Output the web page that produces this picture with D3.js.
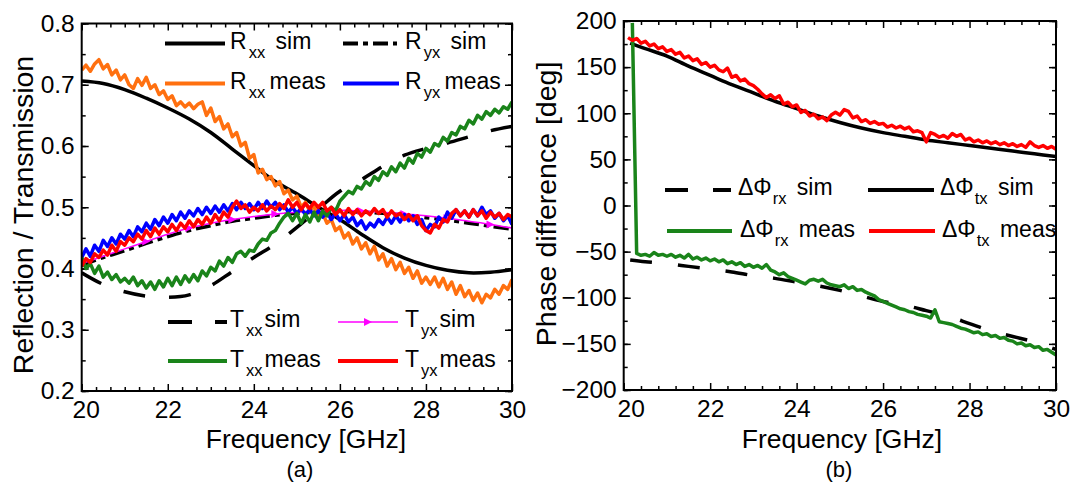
<!DOCTYPE html>
<html>
<head>
<meta charset="utf-8">
<script src="https://cdn.jsdelivr.net/npm/d3@7"></script>
<style>
body{margin:0;background:#fff}
svg{display:block}
</style>
</head>
<body>
<div id="chart"></div>
<script>

const FONT="'Liberation Sans', Arial, Helvetica, sans-serif"

// ---- panel (a): reflection / transmission ----
const freqMeas=d3.range(101).map(i=>+(20+i*0.1).toFixed(1))
const freqSim=d3.range(21).map(i=>20+i*0.5)

const rxxSim=[0.706,0.702,0.692,0.678,0.662,0.644,0.622,0.595,0.568,0.542,0.522,0.500,0.480,0.456,0.434,0.417,0.405,0.397,0.393,0.394,0.398]
const ryxSim=[0.405,0.418,0.429,0.441,0.452,0.462,0.470,0.477,0.482,0.487,0.490,0.492,0.493,0.492,0.490,0.487,0.483,0.479,0.474,0.469,0.464]
const txxSim=[0.393,0.374,0.362,0.355,0.353,0.357,0.372,0.395,0.418,0.440,0.467,0.497,0.526,0.545,0.567,0.585,0.596,0.605,0.615,0.625,0.632]
const tyxSim=[0.408,0.420,0.432,0.444,0.456,0.466,0.474,0.480,0.485,0.489,0.492,0.494,0.495,0.494,0.492,0.489,0.486,0.482,0.477,0.472,0.466]

const rxxMeas=[
0.724,0.732,0.722,0.734,0.741,0.726,0.733,0.716,0.724,0.708,
0.716,0.700,0.694,0.710,0.699,0.712,0.694,0.700,0.684,0.690,
0.676,0.682,0.666,0.672,0.664,0.670,0.661,0.668,0.672,0.650,
0.662,0.640,0.648,0.628,0.636,0.615,0.622,0.600,0.606,0.580,
0.586,0.556,0.562,0.545,0.550,0.535,0.542,0.522,0.528,0.512,
0.518,0.500,0.508,0.494,0.502,0.484,0.490,0.474,0.480,0.462,
0.468,0.450,0.458,0.440,0.450,0.432,0.442,0.424,0.436,0.414,
0.424,0.404,0.416,0.398,0.410,0.392,0.402,0.384,0.396,0.376,
0.386,0.374,0.386,0.370,0.384,0.366,0.378,0.358,0.372,0.354,
0.364,0.348,0.360,0.344,0.358,0.352,0.366,0.358,0.372,0.366,
0.382]
const ryxMeas=[
0.418,0.432,0.420,0.438,0.428,0.446,0.436,0.450,0.440,0.456,
0.448,0.462,0.452,0.468,0.460,0.474,0.464,0.480,0.470,0.484,
0.474,0.488,0.478,0.492,0.482,0.494,0.486,0.498,0.488,0.500,
0.490,0.502,0.492,0.504,0.494,0.506,0.496,0.508,0.498,0.506,
0.496,0.508,0.498,0.510,0.500,0.508,0.496,0.504,0.492,0.500,
0.490,0.498,0.488,0.496,0.486,0.494,0.484,0.492,0.480,0.490,
0.478,0.488,0.476,0.484,0.470,0.478,0.464,0.474,0.468,0.480,
0.472,0.484,0.474,0.486,0.476,0.488,0.478,0.486,0.472,0.480,
0.462,0.472,0.468,0.484,0.476,0.492,0.482,0.496,0.486,0.494,
0.484,0.496,0.486,0.500,0.488,0.494,0.482,0.490,0.478,0.486,
0.472]
const txxMeas=[
0.418,0.400,0.408,0.392,0.404,0.386,0.394,0.382,0.390,0.378,
0.384,0.376,0.386,0.372,0.380,0.368,0.378,0.366,0.380,0.370,
0.384,0.372,0.386,0.374,0.388,0.378,0.390,0.380,0.396,0.388,
0.402,0.396,0.412,0.404,0.418,0.410,0.424,0.428,0.420,0.430,
0.428,0.440,0.448,0.446,0.458,0.462,0.474,0.484,0.490,0.478,
0.490,0.474,0.488,0.476,0.492,0.478,0.494,0.486,0.500,0.494,
0.510,0.518,0.526,0.522,0.534,0.530,0.542,0.536,0.550,0.544,
0.558,0.552,0.566,0.558,0.572,0.564,0.580,0.572,0.588,0.582,
0.596,0.590,0.604,0.600,0.614,0.608,0.622,0.618,0.632,0.628,
0.642,0.636,0.650,0.644,0.656,0.650,0.660,0.654,0.664,0.660,
0.672]
const tyxMeas=[
0.404,0.416,0.410,0.424,0.418,0.430,0.422,0.438,0.428,0.444,
0.438,0.450,0.444,0.456,0.448,0.462,0.452,0.466,0.456,0.468,
0.460,0.472,0.462,0.474,0.466,0.478,0.468,0.480,0.472,0.484,
0.474,0.488,0.478,0.492,0.484,0.500,0.510,0.498,0.504,0.492,
0.500,0.494,0.504,0.494,0.502,0.496,0.506,0.498,0.512,0.500,
0.508,0.496,0.506,0.498,0.508,0.500,0.508,0.494,0.500,0.488,
0.496,0.486,0.498,0.488,0.496,0.486,0.494,0.488,0.498,0.490,
0.496,0.484,0.494,0.486,0.490,0.480,0.488,0.478,0.486,0.470,
0.462,0.458,0.472,0.466,0.480,0.476,0.490,0.496,0.486,0.494,
0.484,0.496,0.486,0.494,0.482,0.492,0.484,0.490,0.480,0.488,
0.484]

// ---- panel (b): phase difference ----
const freqTx=d3.range(100).map(i=>+(20.1+i*0.1).toFixed(1))
const freqRx=d3.range(99).map(i=>+(20.2+i*0.1).toFixed(1))
const freqPhiSim=[20.15,20.5,21,21.5,22,22.5,23,23.5,24,24.5,25,25.5,26,26.5,27,27.5,28,28.5,29,29.5,30]

const txSim=[176,170,162,151,141,131,122,113,105,97,90,84,79,75,71,68,65,62,59,56,53]
const rxSim=[-59,-61,-63,-66,-69,-72,-76,-79,-83,-87,-92,-98,-104,-108,-114,-120,-128,-136,-142,-148,-156]

const txMeas=[
182,179,181,176,178,173,175,170,172,
167,169,164,166,160,162,157,159,153,155,
150,152,147,145,149,139,141,135,137,132,
130,126,121,117,120,116,119,110,112,107,
109,101,103,97,99,94,96,92,98,101,
98,104,102,95,97,91,93,89,91,88,
89,85,87,84,86,83,85,80,81,79,
69,79,77,74,76,73,78,75,77,71,
73,69,71,68,70,67,69,66,68,65,
67,64,66,63,69,65,63,65,62,64,
61]
const rxMeas=[
198,
-52,-54,-53,-55,-51,-54,-53,
-55,-53,-56,-54,-57,-53,-58,-56,-59,-57,
-60,-58,-61,-59,-63,-61,-64,-62,-66,-64,
-67,-65,-68,-64,-70,-72,-75,-73,-77,-79,
-81,-83,-85,-81,-80,-82,-80,-84,-86,-87,
-88,-86,-90,-88,-92,-91,-94,-96,-98,-102,
-104,-106,-108,-110,-112,-113,-115,-116,-118,-119,
-120,-122,-113,-126,-127,-128,-129,-131,-133,-134,
-136,-138,-137,-140,-139,-142,-141,-144,-143,-146,
-147,-150,-149,-152,-151,-154,-153,-157,-156,-159,
-162]

const xTicks=[20,22,24,26,28,30]
const leftYTicks=[0.2,0.3,0.4,0.5,0.6,0.7,0.8]
const rightYTicks=[-200,-150,-100,-50,0,50,100,150,200]

const ORANGE="#ff7010",GREEN="#1a841a",BLUE="#0000ff",RED="#ff0000",MAGENTA="#ff00ff"
const LW=3.5

const svg=d3.select("#chart").append("svg").attr("width",1085).attr("height",485)

function panel(cfg){

const g=svg.append("g")
const x=d3.scaleLinear().domain([20,30]).range(cfg.xr)
const y=d3.scaleLinear().domain(cfg.yd).range(cfg.yr)
const x0=cfg.xr[0],x1=cfg.xr[1],yb=cfg.yr[0],yt=cfg.yr[1]

g.append("clipPath").attr("id","clip"+cfg.id)
.append("rect").attr("x",x0).attr("y",yt).attr("width",x1-x0).attr("height",yb-yt)

function ax(axis,tr){
const a=g.append("g").attr("transform",tr).call(axis)
a.select(".domain").remove()
a.selectAll("line").attr("stroke-width",1.5)
a.attr("font-size",24.5).attr("font-family",FONT)
return a
}

const xMinor=d3.range(20,30.001,cfg.xMinorStep).filter(v=>Math.abs(v/2-Math.round(v/2))>1e-6)
const yMinor=d3.range(cfg.yd[0],cfg.yd[1]+1e-9,cfg.yMinorStep)

ax(d3.axisBottom(x).tickValues(xMinor).tickSizeInner(-4).tickSizeOuter(0).tickFormat(""),`translate(0,${yb})`)
ax(d3.axisTop(x).tickValues(xMinor).tickSizeInner(-4).tickSizeOuter(0).tickFormat(""),`translate(0,${yt})`)
ax(d3.axisLeft(y).tickValues(yMinor).tickSizeInner(-4).tickSizeOuter(0).tickFormat(""),`translate(${x0},0)`)
ax(d3.axisRight(y).tickValues(yMinor).tickSizeInner(-4).tickSizeOuter(0).tickFormat(""),`translate(${x1},0)`)

const xa=ax(d3.axisBottom(x).tickValues(xTicks).tickSizeInner(-7).tickSizeOuter(0).tickPadding(10).tickFormat(d3.format("d")),`translate(0,${yb})`)
xa.selectAll("text").filter(d=>d===20).attr("dx",cfg.firstShift)
ax(d3.axisTop(x).tickValues(xTicks).tickSizeInner(-7).tickSizeOuter(0).tickFormat(""),`translate(0,${yt})`)
ax(d3.axisLeft(y).tickValues(cfg.yTicks).tickSizeInner(-7).tickSizeOuter(0).tickPadding(7).tickFormat(cfg.yFormat),`translate(${x0},0)`)
ax(d3.axisRight(y).tickValues(cfg.yTicks).tickSizeInner(-7).tickSizeOuter(0).tickFormat(""),`translate(${x1},0)`)

const plot=g.append("g").attr("clip-path",`url(#clip${cfg.id})`)

cfg.series.forEach(s=>{
const pts=s.f.map((f,i)=>[f,s.v[i]])
const line=d3.line().x(d=>x(d[0])).y(d=>y(d[1]))
if(s.smooth)line.curve(d3.curveCatmullRom.alpha(0.5))
plot.append("path")
.attr("d",line(pts))
.attr("fill","none")
.attr("stroke",s.color)
.attr("stroke-width",s.w||LW)
.attr("stroke-dasharray",s.dash||null)
.attr("stroke-linejoin","round")
if(s.markers){
plot.selectAll(null)
.data(pts.filter((d,i)=>i%2===1&&i>1))
.enter()
.append("path")
.attr("d","M-4,-4L4,0L-4,4Z")
.attr("transform",d=>`translate(${x(d[0])},${y(d[1])})`)
.attr("fill",s.color)
}
})

g.append("rect")
.attr("x",x0).attr("y",yt).attr("width",x1-x0).attr("height",yb-yt)
.attr("fill","none").attr("stroke","#000").attr("stroke-width",2)

g.append("text")
.attr("transform",`translate(${cfg.yTitle.x},${cfg.yTitle.y}) rotate(-90)`)
.attr("text-anchor","middle")
.attr("font-family",FONT).attr("font-size",28.5)
.text(cfg.yTitle.text)

g.append("text")
.attr("x",cfg.xTitle.x).attr("y",448)
.attr("text-anchor","middle")
.attr("font-family",FONT).attr("font-size",26.5)
.text("Frequency [GHz]")

g.append("text")
.attr("x",cfg.tag.x).attr("y",477)
.attr("text-anchor","middle")
.attr("font-family",FONT).attr("font-size",22)
.text(cfg.tag.text)

// legend
cfg.legend.forEach(it=>{
const ly=it.ty-it.lift
g.append("line")
.attr("x1",it.lx[0]).attr("x2",it.lx[1]).attr("y1",ly).attr("y2",ly)
.attr("stroke",it.color).attr("stroke-width",it.w||4)
.attr("stroke-dasharray",it.dash||null)
if(it.marker){
g.append("path").attr("d","M-4,-4L4,0L-4,4Z")
.attr("transform",`translate(${(it.lx[0]+it.lx[1])/2},${ly})`)
.attr("fill",it.color)
}
const t=g.append("text").attr("x",it.tx).attr("y",it.ty)
.attr("font-family",FONT).attr("font-size",23)
t.append("tspan").text(it.label[0])
t.append("tspan").attr("dx",it.g1).attr("dy",9).attr("font-size",16.5).text(it.label[1])
t.append("tspan").attr("dx",it.g2).attr("dy",-9).text(it.label[2])
})

}

panel({
id:"a",
xr:[81.7,512],yd:[0.2,0.8],yr:[391,23.5],
xMinorStep:1/3,yMinorStep:0.05,
yTicks:leftYTicks,yFormat:d3.format(".1f"),firstShift:4,
yTitle:{x:33,y:215,text:"Reflection / Transmission"},
xTitle:{x:306},
tag:{x:300,text:"(a)"},
series:[
{f:freqSim,v:rxxSim,color:"#000",smooth:true},
{f:freqSim,v:ryxSim,color:"#000",dash:"15,5,5,5",smooth:true},
{f:freqSim,v:txxSim,color:"#000",dash:"22,24",smooth:true},
{f:freqSim,v:tyxSim,color:MAGENTA,w:1.5,smooth:true,markers:true},
{f:freqMeas,v:rxxMeas,color:ORANGE},
{f:freqMeas,v:ryxMeas,color:BLUE},
{f:freqMeas,v:txxMeas,color:GREEN},
{f:freqMeas,v:tyxMeas,color:RED}
],
legend:[
{lx:[165,225],ty:48.5,lift:5,color:"#000",tx:230,g1:2,g2:4,label:["R","xx"," sim"]},
{lx:[343,397],ty:48.5,lift:5,color:"#000",dash:"15,5,5,5",tx:405,g1:2,g2:4,label:["R","yx"," sim"]},
{lx:[165,225],ty:88.5,lift:5,color:ORANGE,tx:230,g1:2,g2:-2,label:["R","xx"," meas"]},
{lx:[343,399],ty:88.5,lift:5,color:BLUE,tx:405,g1:2,g2:-2,label:["R","yx"," meas"]},
{lx:[168,227],ty:327,lift:5,color:"#000",dash:"24,23",tx:230,g1:2,g2:2,label:["T","xx","sim"]},
{lx:[338,398],ty:327,lift:5,color:MAGENTA,w:1.5,marker:true,tx:405,g1:2,g2:2,label:["T","yx","sim"]},
{lx:[168,227],ty:367,lift:6,color:GREEN,tx:230,g1:2,g2:2,label:["T","xx","meas"]},
{lx:[338,398],ty:367,lift:6,color:RED,tx:405,g1:2,g2:2,label:["T","yx","meas"]}
]
})

panel({
id:"b",
xr:[623.7,1056],yd:[-200,200],yr:[390,21],
xMinorStep:0.4,yMinorStep:25,
yTicks:rightYTicks,yFormat:d3.format("d"),firstShift:7,
yTitle:{x:556,y:204,text:"Phase difference [deg]"},
xTitle:{x:842},
tag:{x:839,text:"(b)"},
series:[
{f:freqPhiSim,v:rxSim,color:"#000",dash:"22,26",smooth:true},
{f:freqPhiSim,v:txSim,color:"#000",smooth:true},
{f:freqRx,v:rxMeas,color:GREEN},
{f:freqTx,v:txMeas,color:RED}
],
legend:[
{lx:[665,731],ty:195,lift:5,color:"#000",dash:"23,25",tx:738,g1:1,g2:4,label:["ΔΦ","rx"," sim"]},
{lx:[868,934],ty:195,lift:5,color:"#000",tx:940,g1:1,g2:4,label:["ΔΦ","tx"," sim"]},
{lx:[667,732],ty:236.5,lift:5.5,color:GREEN,tx:740,g1:1,g2:4,label:["ΔΦ","rx"," meas"]},
{lx:[869,935],ty:236.5,lift:5.5,color:RED,tx:942,g1:1,g2:4,label:["ΔΦ","tx"," meas"]}
]
})

</script>
</body>
</html>
